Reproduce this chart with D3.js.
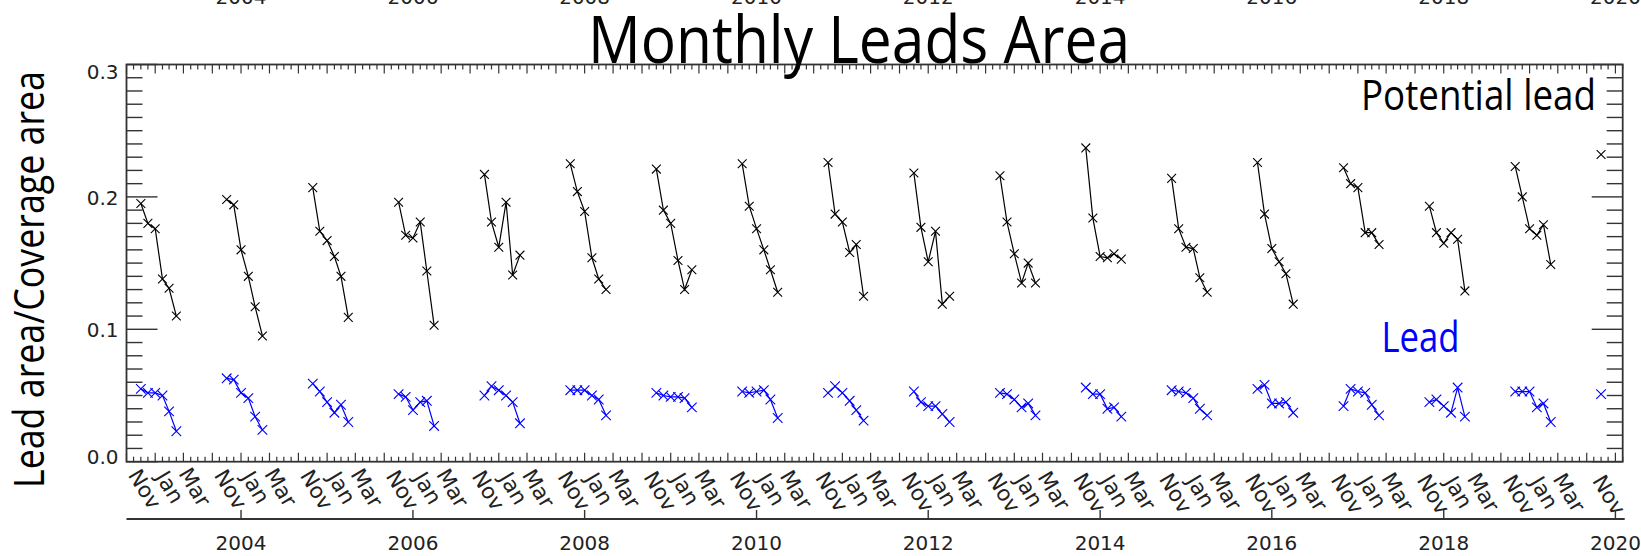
<!DOCTYPE html>
<html><head><meta charset="utf-8">
<script src="https://cdn.jsdelivr.net/npm/d3@7"></script>
<style>html,body{margin:0;padding:0;background:#fff;} svg{display:block}</style>
</head><body>
<svg id="chart" width="1641" height="556"></svg>
<script>
// ---------- data ----------
const winterStartYears = [2002,2003,2004,2005,2006,2007,2008,2009,2010,2011,2012,2013,2014,2015,2016,2017,2018];
const monthNames = ["Nov","Dec","Jan","Feb","Mar","Apr"];
const potentialLead = [
  [0.195,0.180,0.176,0.138,0.131,0.110],
  [0.198,0.194,0.160,0.140,0.117,0.095],
  [0.207,0.174,0.167,0.155,0.140,0.109],
  [0.196,0.171,0.169,0.181,0.144,0.103],
  [0.217,0.181,0.162,0.196,0.141,0.156],
  [0.225,0.204,0.189,0.154,0.138,0.130],
  [0.221,0.190,0.180,0.152,0.130,0.145],
  [0.225,0.193,0.176,0.160,0.145,0.128],
  [0.226,0.187,0.181,0.158,0.164,0.125],
  [0.218,0.177,0.151,0.174,0.119,0.125],
  [0.216,0.181,0.157,0.135,0.150,0.135],
  [0.237,0.184,0.155,0.154,0.157,0.153],
  [0.214,0.176,0.162,0.161,0.139,0.128],
  [0.226,0.187,0.161,0.151,0.142,0.119],
  [0.222,0.210,0.207,0.173,0.173,0.164],
  [0.193,0.173,0.165,0.173,0.168,0.129],
  [0.223,0.200,0.176,0.171,0.179,0.149]
];
const lead = [
  [0.055,0.052,0.052,0.050,0.038,0.023],
  [0.063,0.062,0.052,0.048,0.034,0.024],
  [0.059,0.053,0.045,0.037,0.043,0.030],
  [0.051,0.049,0.039,0.045,0.046,0.027],
  [0.050,0.057,0.054,0.050,0.045,0.029],
  [0.054,0.054,0.054,0.050,0.047,0.035],
  [0.052,0.050,0.049,0.049,0.048,0.041],
  [0.053,0.052,0.053,0.054,0.047,0.033],
  [0.052,0.057,0.052,0.046,0.039,0.031],
  [0.053,0.045,0.042,0.042,0.036,0.030],
  [0.052,0.051,0.047,0.041,0.044,0.035],
  [0.056,0.051,0.051,0.040,0.041,0.034],
  [0.054,0.053,0.052,0.048,0.040,0.035],
  [0.055,0.058,0.044,0.044,0.045,0.037],
  [0.042,0.055,0.053,0.052,0.043,0.035],
  [0.045,0.047,0.042,0.037,0.056,0.034],
  [0.053,0.053,0.053,0.041,0.044,0.030]
];
const extraPointDate = [2019, 10];   // Nov 2019 (year, month index)
const extraPotentialLead = 0.232;
const extraLead = 0.051;
const yTickValues = [0, 0.1, 0.2, 0.3];
const yTickLabels = ["0.0", "0.1", "0.2", "0.3"];
const yearTickValues = [2004, 2006, 2008, 2010, 2012, 2014, 2016, 2018, 2020];
const monthTickLabels = ["Nov", "Jan", "Mar"];
const titleText = "Monthly Leads Area";
const yAxisTitle = "Lead area/Coverage area";
const seriesLabels = ["Potential lead", "Lead"];

// ---------- layout ----------
const svg = d3.select("#chart");
const L = 126.5, R = 1622.7, T = 64.5, B = 461.7;
const axisColor = "#333";
const x = d3.scaleTime().domain([new Date(2002, 8, 1), new Date(2020, 1, 1)]).range([L, R]);
const y = d3.scaleLinear().domain([0, 0.3]).range([B, T]);
const tickFont = "DejaVu Sans, sans-serif";
const bigFont = "Open Sans, sans-serif";

// frame
svg.append("rect").attr("x", L).attr("y", T).attr("width", R - L).attr("height", B - T)
  .attr("fill", "none").attr("stroke", axisColor).attr("stroke-width", 1.8);

// monthly x ticks (top & bottom)
const monthTicks = d3.timeMonth.range(new Date(2002, 8, 1), new Date(2020, 1, 2));
const gx = svg.append("g").attr("stroke", axisColor).attr("stroke-width", 1.2);
monthTicks.forEach(d => {
  const len = (d.getMonth() % 4 === 0) ? 9 : 5;
  const xx = x(d);
  gx.append("line").attr("x1", xx).attr("x2", xx).attr("y1", B).attr("y2", B - len);
  gx.append("line").attr("x1", xx).attr("x2", xx).attr("y1", T).attr("y2", T + len);
});

// y ticks (left & right)
const gy = svg.append("g").attr("stroke", axisColor).attr("stroke-width", 1.4);
d3.range(0, 31).forEach(i => {
  const v = i / 100;
  const yy = y(v);
  const len = (i % 10 === 0) ? 31 : 16;
  gy.append("line").attr("x1", L).attr("x2", L + len).attr("y1", yy).attr("y2", yy);
  gy.append("line").attr("x1", R).attr("x2", R - len).attr("y1", yy).attr("y2", yy);
});
const yLabelShift = {0: -5, 0.1: 0.5, 0.2: 1, 0.3: 7.5};
yTickValues.forEach((v, i) => {
  svg.append("text").attr("x", 118.5).attr("y", y(v) + yLabelShift[v])
    .attr("text-anchor", "end").attr("dominant-baseline", "central")
    .attr("font-family", tickFont).attr("font-size", 20).attr("fill", "#222")
    .text(yTickLabels[i]);
});

// month labels (rotated)
const labelDx = [4, 29, 54];
const labelCy = [489, 487, 487];
const labelDates = winterStartYears.map(yr => new Date(yr, 10, 1)).concat([new Date(extraPointDate[0], extraPointDate[1], 1)]);
labelDates.forEach((d, gi) => {
  const base = x(d);
  const isLast = gi === labelDates.length - 1;
  const names = isLast ? monthTickLabels.slice(0, 1) : monthTickLabels;
  const drift = (base - L) / (R - L) * 6;
  names.forEach((nm, k) => {
    const cx = base + labelDx[k] + (isLast ? 4 : 0), cy = labelCy[k] + drift;
    svg.append("text").attr("transform", `translate(${cx},${cy}) rotate(59)`)
      .attr("text-anchor", "middle").attr("dominant-baseline", "central")
      .attr("font-family", tickFont).attr("font-size", 21.5).attr("fill", "#222")
      .text(nm);
  });
});

// year axis below
const yearY = 519;
svg.append("line").attr("x1", L).attr("x2", R + 2).attr("y1", yearY).attr("y2", yearY)
  .attr("stroke", axisColor).attr("stroke-width", 1.8);
yearTickValues.forEach(yr => {
  const xx = x(new Date(yr, 0, 1));
  svg.append("line").attr("x1", xx).attr("x2", xx).attr("y1", yearY).attr("y2", yearY - 9)
    .attr("stroke", axisColor).attr("stroke-width", 1.4);
  svg.append("text").attr("x", xx).attr("y", 550).attr("text-anchor", "middle")
    .attr("font-family", tickFont).attr("font-size", 20).attr("fill", "#222").text(yr);
  // top (clipped) year labels
  svg.append("text").attr("x", xx).attr("y", 3.5).attr("text-anchor", "middle")
    .attr("font-family", tickFont).attr("font-size", 20).attr("fill", "#222").text(yr);
});

// series
function drawSeries(values, color, half, extraVal) {
  const g = svg.append("g");
  const line = d3.line().x(p => x(p.date)).y(p => y(p.v));
  const allPts = [];
  winterStartYears.forEach((yr, wi) => {
    const pts = values[wi].map((v, mi) => ({date: new Date(yr, 10 + mi, 1), v}));
    allPts.push(...pts);
    g.append("path").attr("d", line(pts)).attr("fill", "none")
      .attr("stroke", color).attr("stroke-width", 1.2);
  });
  allPts.push({date: new Date(extraPointDate[0], extraPointDate[1], 1), v: extraVal});
  g.selectAll("path.m").data(allPts).enter().append("path").attr("class", "m")
    .attr("d", p => {
      const cx = x(p.date), cy = y(p.v);
      return `M${cx - half},${cy - half}L${cx + half},${cy + half}M${cx - half},${cy + half}L${cx + half},${cy - half}`;
    })
    .attr("stroke", color).attr("stroke-width", 1.1).attr("fill", "none");
}
drawSeries(potentialLead, "#000", 4.4, extraPotentialLead);
drawSeries(lead, "#0000ff", 4.8, extraLead);

// texts
svg.append("text").attr("x", 588).attr("y", 63).attr("font-family", bigFont).attr("font-size", 66)
  .attr("textLength", 542).attr("lengthAdjust", "spacingAndGlyphs").attr("fill", "#000").text(titleText);
svg.append("text").attr("x", 1361).attr("y", 110).attr("font-family", bigFont).attr("font-size", 42)
  .attr("textLength", 235).attr("lengthAdjust", "spacingAndGlyphs").attr("fill", "#000").text(seriesLabels[0]);
svg.append("text").attr("x", 1381.5).attr("y", 351.5).attr("font-family", bigFont).attr("font-size", 42)
  .attr("textLength", 78).attr("lengthAdjust", "spacingAndGlyphs").attr("fill", "#0000ff").text(seriesLabels[1]);
svg.append("text").attr("transform", "translate(44,279.5) rotate(-90)").attr("text-anchor", "middle")
  .attr("font-family", bigFont).attr("font-size", 42)
  .attr("textLength", 417).attr("lengthAdjust", "spacingAndGlyphs").attr("fill", "#000").text(yAxisTitle);
</script>
</body></html>
